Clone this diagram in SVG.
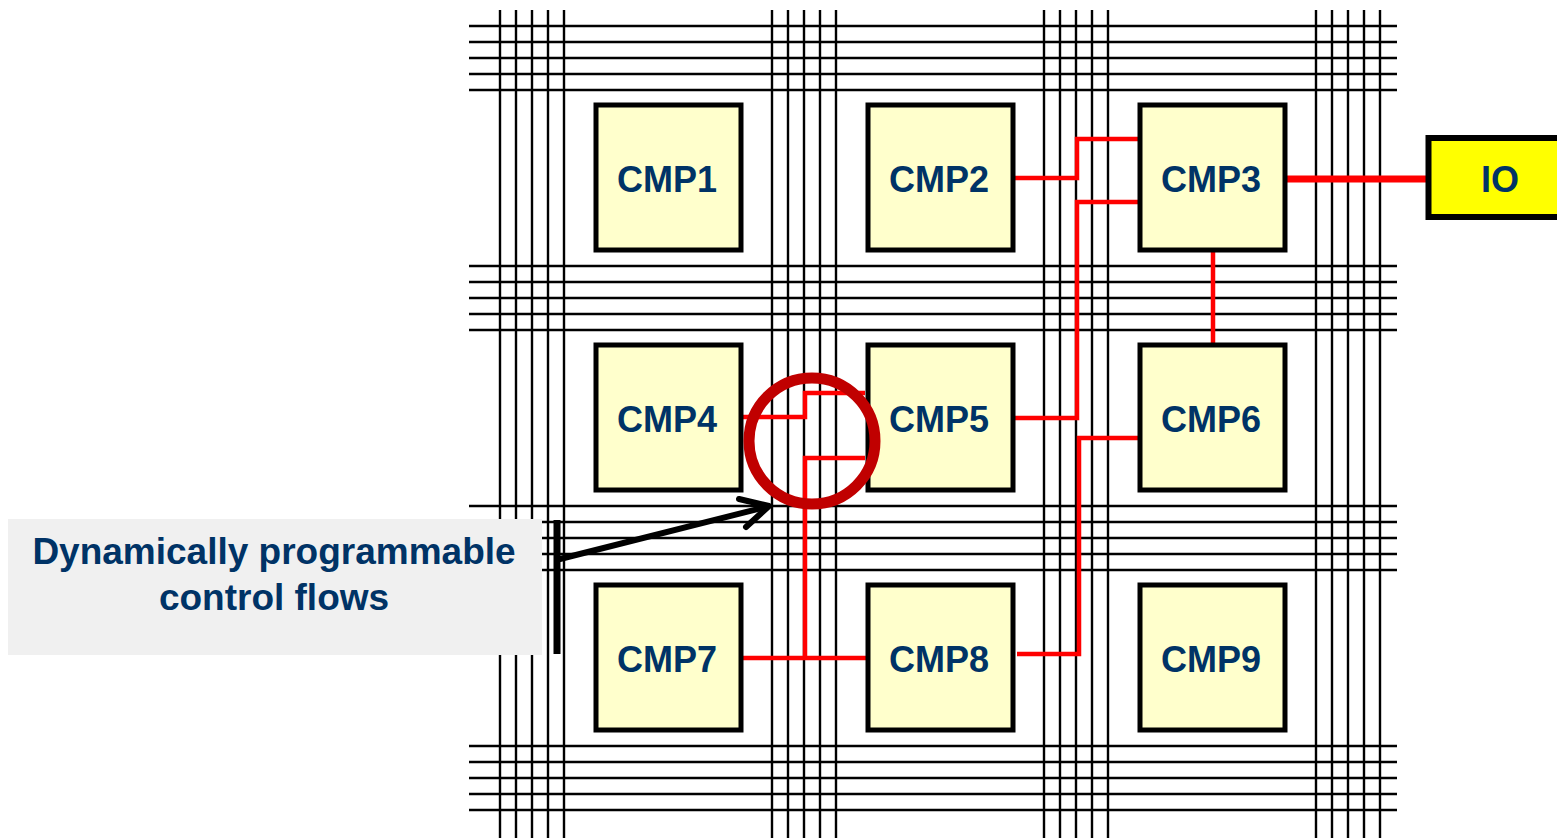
<svg xmlns="http://www.w3.org/2000/svg" width="1557" height="838" viewBox="0 0 1557 838">
<style>
.g line{stroke:#000;stroke-width:2.4}
.box{fill:#FFFFCC;stroke:#000;stroke-width:5}
.lbl{font-family:"Liberation Sans",Arial,sans-serif;font-weight:bold;font-size:36px;fill:#003366;text-anchor:middle}
.call{font-size:37px}
.red{fill:none;stroke:#FF0000;stroke-width:4.5;stroke-linejoin:miter}
</style>
<rect width="1557" height="838" fill="#fff"/>
<g id="grid" class="g">
<line x1="500" y1="10" x2="500" y2="838"/><line x1="516" y1="10" x2="516" y2="838"/><line x1="532" y1="10" x2="532" y2="838"/><line x1="548" y1="10" x2="548" y2="838"/><line x1="564" y1="10" x2="564" y2="838"/>
<line x1="772" y1="10" x2="772" y2="838"/><line x1="788" y1="10" x2="788" y2="838"/><line x1="804" y1="10" x2="804" y2="838"/><line x1="820" y1="10" x2="820" y2="838"/><line x1="836" y1="10" x2="836" y2="838"/>
<line x1="1044" y1="10" x2="1044" y2="838"/><line x1="1060" y1="10" x2="1060" y2="838"/><line x1="1076" y1="10" x2="1076" y2="838"/><line x1="1092" y1="10" x2="1092" y2="838"/><line x1="1108" y1="10" x2="1108" y2="838"/>
<line x1="1316" y1="10" x2="1316" y2="838"/><line x1="1332" y1="10" x2="1332" y2="838"/><line x1="1348" y1="10" x2="1348" y2="838"/><line x1="1364" y1="10" x2="1364" y2="838"/><line x1="1380" y1="10" x2="1380" y2="838"/>
<line x1="469" y1="26" x2="1397" y2="26"/><line x1="469" y1="42" x2="1397" y2="42"/><line x1="469" y1="58" x2="1397" y2="58"/><line x1="469" y1="74" x2="1397" y2="74"/><line x1="469" y1="90" x2="1397" y2="90"/>
<line x1="469" y1="266" x2="1397" y2="266"/><line x1="469" y1="282" x2="1397" y2="282"/><line x1="469" y1="298" x2="1397" y2="298"/><line x1="469" y1="314" x2="1397" y2="314"/><line x1="469" y1="330" x2="1397" y2="330"/>
<line x1="469" y1="506" x2="1397" y2="506"/><line x1="469" y1="522" x2="1397" y2="522"/><line x1="469" y1="538" x2="1397" y2="538"/><line x1="469" y1="554" x2="1397" y2="554"/><line x1="469" y1="570" x2="1397" y2="570"/>
<line x1="469" y1="746" x2="1397" y2="746"/><line x1="469" y1="762" x2="1397" y2="762"/><line x1="469" y1="778" x2="1397" y2="778"/><line x1="469" y1="794" x2="1397" y2="794"/><line x1="469" y1="810" x2="1397" y2="810"/>
</g>
<g id="connectors">
<polyline class="red" points="1015,178 1077,178 1077,139 1138,139"/>
<polyline class="red" points="1015,418 1077,418 1077,202 1138,202"/>
<polyline class="red" points="1017,654 1079,654 1079,438 1141,438"/>
<line class="red" x1="1213" y1="250" x2="1213" y2="345"/>
<line x1="1285" y1="179" x2="1426" y2="179" stroke="#FF0000" stroke-width="7"/>
<polyline class="red" points="743,417 805,417 805,393 865,393"/>
<polyline class="red" points="865,458 805,458 805,658"/>
<line class="red" x1="742" y1="658" x2="867" y2="658"/>
</g>
<g id="CMP1"><rect class="box" x="596" y="105" width="145" height="145"/><text class="lbl" x="667" y="192">CMP1</text></g>
<g id="CMP2"><rect class="box" x="868" y="105" width="145" height="145"/><text class="lbl" x="939" y="192">CMP2</text></g>
<g id="CMP3"><rect class="box" x="1140" y="105" width="145" height="145"/><text class="lbl" x="1211" y="192">CMP3</text></g>
<g id="CMP4"><rect class="box" x="596" y="345" width="145" height="145"/><text class="lbl" x="667" y="432">CMP4</text></g>
<g id="CMP5"><rect class="box" x="868" y="345" width="145" height="145"/><text class="lbl" x="939" y="432">CMP5</text></g>
<g id="CMP6"><rect class="box" x="1140" y="345" width="145" height="145"/><text class="lbl" x="1211" y="432">CMP6</text></g>
<g id="CMP7"><rect class="box" x="596" y="585" width="145" height="145"/><text class="lbl" x="667" y="672">CMP7</text></g>
<g id="CMP8"><rect class="box" x="868" y="585" width="145" height="145"/><text class="lbl" x="939" y="672">CMP8</text></g>
<g id="CMP9"><rect class="box" x="1140" y="585" width="145" height="145"/><text class="lbl" x="1211" y="672">CMP9</text></g>
<g id="IO"><rect x="1428.5" y="138" width="140" height="79" fill="#FFFF00" stroke="#000" stroke-width="6"/><text class="lbl" x="1500" y="192">IO</text></g>
<g id="highlight"><circle cx="812" cy="441" r="63" fill="none" stroke="#C00000" stroke-width="11"/></g>
<g id="callout">
<rect x="8" y="519" width="534" height="136" fill="#F0F0F0"/>
<text class="lbl call" x="274" y="564">Dynamically programmable</text>
<text class="lbl call" x="274" y="610">control flows</text>
<line x1="557" y1="520" x2="557" y2="654" stroke="#000" stroke-width="7"/>
<line x1="560" y1="559" x2="766" y2="507" stroke="#000" stroke-width="6" stroke-linecap="round"/>
<polyline points="739,499 769,506 746,527" fill="none" stroke="#000" stroke-width="6" stroke-linecap="round" stroke-linejoin="round"/>
</g>
</svg>
